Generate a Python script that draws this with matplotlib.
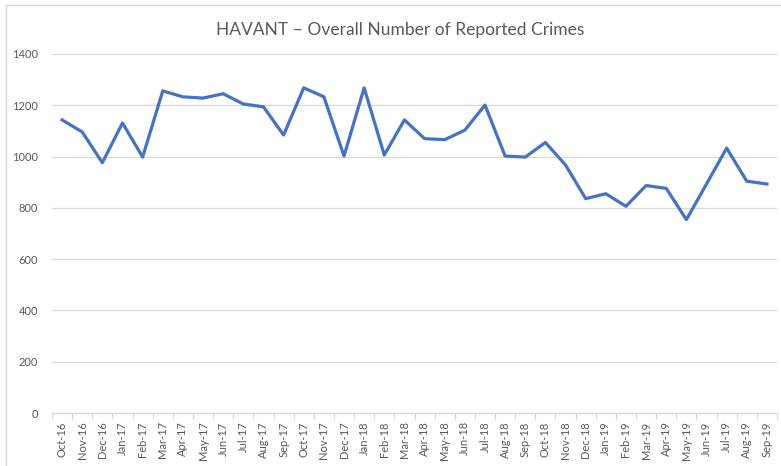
import numpy as np
import matplotlib.pyplot as plt
from matplotlib.lines import Line2D

plt.rcParams['font.family'] = ['Lato', 'DejaVu Sans']

# monthly reported crimes, Havant
months = ['Oct-16', 'Nov-16', 'Dec-16', 'Jan-17', 'Feb-17', 'Mar-17', 'Apr-17', 'May-17',
          'Jun-17', 'Jul-17', 'Aug-17', 'Sep-17', 'Oct-17', 'Nov-17', 'Dec-17', 'Jan-18',
          'Feb-18', 'Mar-18', 'Apr-18', 'May-18', 'Jun-18', 'Jul-18', 'Aug-18', 'Sep-18',
          'Oct-18', 'Nov-18', 'Dec-18', 'Jan-19', 'Feb-19', 'Mar-19', 'Apr-19', 'May-19',
          'Jun-19', 'Jul-19', 'Aug-19', 'Sep-19']
crimes = [1143, 1096, 976, 1131, 998, 1256, 1233, 1228, 1245, 1205, 1194, 1084,
          1268, 1233, 1002, 1268, 1006, 1143, 1070, 1066, 1103, 1201, 1002, 998,
          1055, 967, 836, 855, 806, 887, 876, 754, 893, 1033, 904, 893]
yticks = [0, 200, 400, 600, 800, 1000, 1200, 1400]

W, H = 781, 466
fig = plt.figure(figsize=(W / 100, H / 100), dpi=100)
ax = fig.add_axes([52 / W, (H - 413) / H, (777 - 52) / W, (413 - 54) / H])

x = np.arange(len(months))
ax.plot(x, crimes, color='#4472C4', lw=2.3, solid_joinstyle='round')

ax.set_xlim(-0.5, len(months) - 0.5)
ax.set_ylim(0, 1400)
ax.set_yticks(yticks)
ax.set_yticklabels([str(v) for v in yticks])
ax.grid(axis='y', color='#d9d9d9', lw=0.9)
ax.set_axisbelow(True)

ax.set_xticks(x)
ax.set_xticklabels(months, rotation=90)
ax.set_xticks(np.arange(-0.5, len(months)), minor=True)
ax.tick_params(axis='x', which='major', length=0, pad=6, labelsize=8, labelcolor='#595959')
ax.tick_params(axis='x', which='minor', length=4, color='#d9d9d9', width=0.9)
ax.tick_params(axis='y', length=0, pad=10, labelsize=8, labelcolor='#595959')

for s in ['top', 'right', 'left']:
    ax.spines[s].set_visible(False)
ax.spines['bottom'].set_color('#d9d9d9')
ax.spines['bottom'].set_linewidth(0.9)

fig.text(400 / W, 1 - 30 / H, 'HAVANT \u2013 Overall Number of Reported Crimes',
         ha='center', va='center', fontsize=12.5, color='#595959')

# chart border (cropped on right and bottom)
fig.add_artist(Line2D([6 / W, 6 / W], [0, 1 - 5 / H], color='#d9d9d9', lw=1, transform=fig.transFigure))
fig.add_artist(Line2D([6 / W, 1], [1 - 5 / H, 1 - 5 / H], color='#d9d9d9', lw=1, transform=fig.transFigure))

fig.savefig('out.png', dpi=100)
